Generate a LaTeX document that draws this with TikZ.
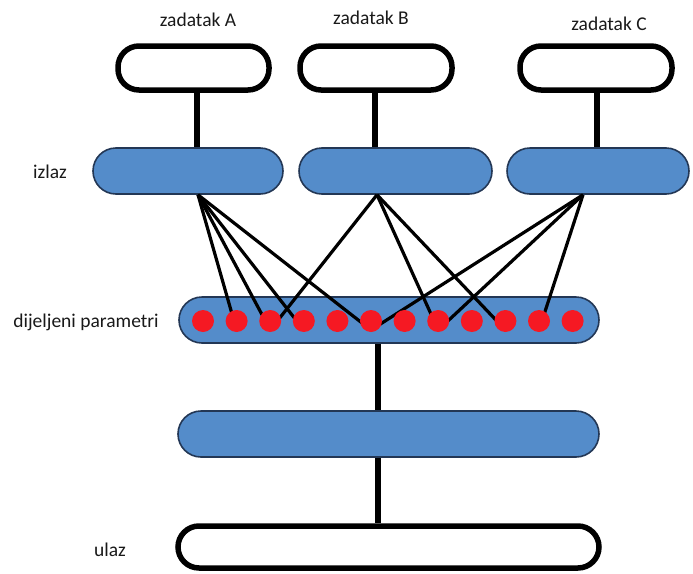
\documentclass[tikz,border=0pt]{standalone}
\usepackage{fontspec}
\setmainfont{Carlito}
\definecolor{boxblue}{RGB}{84,140,202}
\definecolor{boxedge}{RGB}{35,55,85}
\definecolor{dotred}{RGB}{245,25,35}
\begin{document}
\begin{tikzpicture}[x=1pt,y=-1pt,
  whitebox/.style={draw=black,fill=white,line width=5.5pt,rounded corners=21pt,inner sep=0pt,minimum height=44pt},
  bluebox/.style={draw=boxedge,fill=boxblue,line width=1.6pt,rounded corners=23pt,inner sep=0pt,minimum height=46pt},
  reddot/.style={circle,fill=dotred,inner sep=0pt,minimum size=22pt},
  thickline/.style={line width=5.5pt},
  fanline/.style={line width=3.2pt},
  lbl/.style={font=\fontsize{19.5pt}{22pt}\selectfont,text=black!90,inner sep=0pt}]
\useasboundingbox (0,0) rectangle (693,573);
% top task boxes
\node[whitebox,minimum width=151pt] (wa) at (193.5,68) {};
\node[whitebox,minimum width=152pt] (wb) at (376,68) {};
\node[whitebox,minimum width=152pt] (wc) at (596,68) {};
% output boxes
\node[bluebox,minimum width=190pt] (ba) at (188,171) {};
\node[bluebox,minimum width=193pt] (bb) at (395.5,171) {};
\node[bluebox,minimum width=182pt] (bc) at (598,171) {};
% shared params
\node[bluebox,minimum width=420pt] (sh) at (389,320) {};
% lower hidden layer
\node[bluebox,minimum width=421pt] (lo) at (388.5,434) {};
% input
\node[whitebox,minimum width=421pt,minimum height=42pt] (in) at (388.5,547) {};
% x positions of connectors
\coordinate (xa) at (197,0);
\coordinate (xb) at (375,0);
\coordinate (xc) at (597,0);
\coordinate (fa) at (198,0);
\coordinate (fb) at (377,0);
\coordinate (fc) at (583,0);
\coordinate (xm) at (378,0);
% vertical connectors
\draw[thickline] (wa.south -| xa) -- (ba.north -| xa);
\draw[thickline] (wb.south -| xb) -- (bb.north -| xb);
\draw[thickline] (wc.south -| xc) -- (bc.north -| xc);
\draw[thickline] (sh.south -| xm) -- (lo.north -| xm);
\draw[thickline] (lo.south -| xm) -- (in.north -| xm);
% dots (positions)
\foreach \i in {1,...,12} {
  \coordinate (d\i) at ({203+33.6*(\i-1)},321);
}
% fan lines
\foreach \j in {2,3,4,6} \draw[fanline] (ba.south -| fa) -- ([yshift=-9pt]d\j);
\foreach \j in {3,8,10} \draw[fanline] (bb.south -| fb) -- ([yshift=-9pt]d\j);
\foreach \j in {6,8,11} \draw[fanline] (bc.south -| fc) -- ([yshift=-9pt]d\j);
\foreach \i in {1,...,12} \node[reddot] (rd\i) at (d\i) {};
% labels
\node[lbl] (la) at (198,20) {zadatak A};
\node[lbl] (lb) at (371,18) {zadatak B};
\node[lbl] (lc) at (609,24) {zadatak C};
\node[lbl] (li) at (50,172) {izlaz};
\node[lbl] (lp) at (86,322) {dijeljeni parametri};
\node[lbl] (lu) at (110,550) {ulaz};
\end{tikzpicture}
\end{document}
